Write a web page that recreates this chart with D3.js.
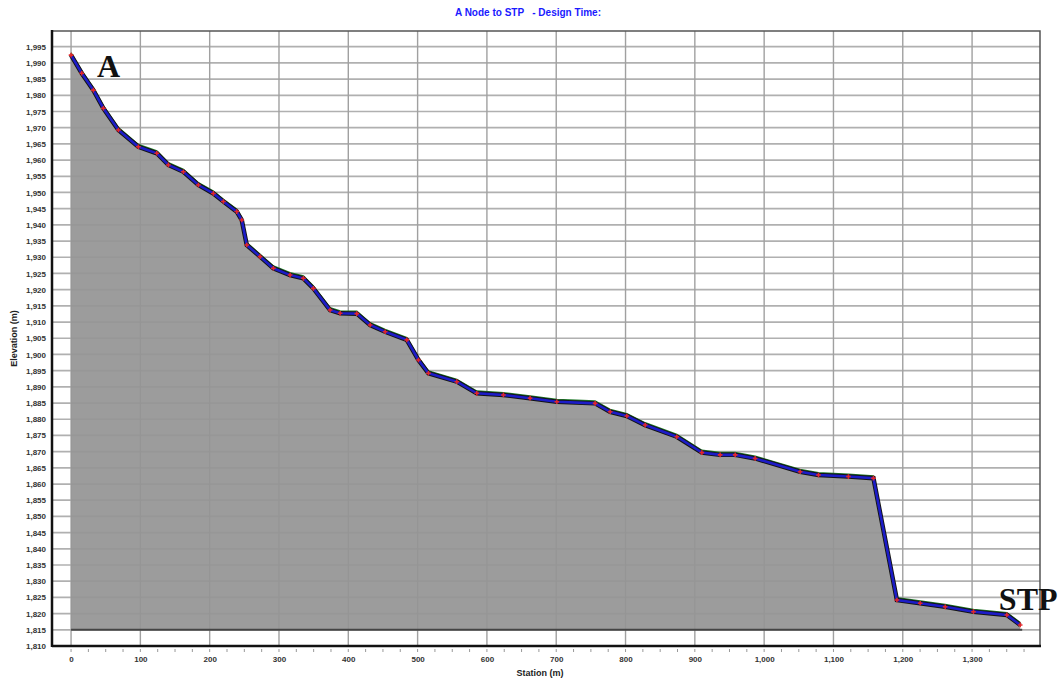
<!DOCTYPE html>
<html lang="en">
<head>
    <title>A Node to STP - Design Time</title>
    <script src="https://d3js.org/d3.v7.min.js"></script>
    <style>
        body { margin: 0; background: #fff; }
        .tick text { font-family: "Liberation Sans", Arial, sans-serif; font-weight: bold; }
    </style>
</head>
<body>
    <svg id="plot"></svg>

    <script>
        // station (m) and ground elevation (m)
        var station = [0, 15.4, 32.2, 46.6, 68.3, 97.1, 123.7, 140.4, 162.1, 183.7,
            205.3, 219.8, 239.1, 246.3, 253.5, 272.7, 291.9, 316.0, 335.2, 349.6,
            373.7, 388.2, 412.3, 431.5, 453.1, 484.4, 501.2, 515.6, 556.6, 585.4,
            623.8, 662.3, 700.9, 756.1, 777.8, 801.9, 828.3, 874.0, 910.1, 936.5,
            958.2, 987.0, 1051.9, 1078.4, 1121.6, 1157.7, 1191.5, 1225.1, 1261.2, 1302.0,
            1350.2, 1369.4];
        var elevation = [1992.4, 1986.8, 1981.6, 1976.0, 1969.3, 1964.1, 1962.1, 1958.5, 1956.4, 1952.3,
            1949.7, 1947.2, 1944.1, 1941.5, 1933.8, 1930.2, 1926.6, 1924.5, 1923.5, 1920.4,
            1913.7, 1912.7, 1912.6, 1909.1, 1907.0, 1904.5, 1898.3, 1894.2, 1891.6, 1888.0,
            1887.5, 1886.5, 1885.4, 1884.9, 1882.3, 1881.0, 1878.2, 1874.6, 1869.7, 1869.0,
            1869.0, 1867.9, 1863.8, 1862.8, 1862.3, 1861.8, 1824.2, 1823.2, 1822.1, 1820.6,
            1819.6, 1816.5];
        var baseElevation = 1815;

        var yTicks = d3.range(1810, 1996, 5);
        var xTicks = d3.range(0, 1301, 100);
        var xMinor = d3.range(0, 1400, 25);

        var W = 1062, H = 682;
        var pLeft = 52, pRight = 1040, pTop = 31, pBottom = 646;

        var svg = d3.select("#plot").attr("width", W).attr("height", H);

        var xScale = d3.scaleLinear().domain([-27.5, 1398]).range([pLeft, pRight]);
        var yScale = d3.scaleLinear().domain([1810, 2000]).range([pBottom, pTop - 0.5]);

        var fmt = d3.format(",");

        // grid
        svg.append("g").selectAll("line").data(yTicks).join("line")
            .attr("x1", pLeft).attr("x2", pRight)
            .attr("y1", function (d) { return yScale(d); })
            .attr("y2", function (d) { return yScale(d); })
            .attr("stroke", "#b0b0b0").attr("stroke-width", 1.7);

        svg.append("g").selectAll("line").data(xTicks).join("line")
            .attr("x1", function (d) { return xScale(d); })
            .attr("x2", function (d) { return xScale(d); })
            .attr("y1", pTop).attr("y2", pBottom)
            .attr("stroke", "#a0a0a0").attr("stroke-width", 1.4);

        var pts = station.map(function (s, i) { return { x: s, y: elevation[i] }; });

        // ground area
        var area = d3.area()
            .x(function (d) { return xScale(d.x); })
            .y0(yScale(baseElevation))
            .y1(function (d) { return yScale(d.y); });

        svg.append("path").datum(pts)
            .attr("d", area)
            .attr("fill", "#959595")
            .attr("fill-opacity", 0.93);

        svg.append("line")
            .attr("x1", xScale(0)).attr("x2", xScale(station[station.length - 1]) + 2)
            .attr("y1", yScale(baseElevation)).attr("y2", yScale(baseElevation))
            .attr("stroke", "#444").attr("stroke-width", 2);

        var line = d3.line()
            .x(function (d) { return xScale(d.x); })
            .y(function (d) { return yScale(d.y); });

        // hydraulic line just above the pipe
        svg.append("path").datum(pts.map(function (d) { return { x: d.x, y: d.y + 0.7 }; }))
            .attr("d", line).attr("fill", "none")
            .attr("stroke", "#1f7a2a").attr("stroke-width", 1.5);

        svg.append("path").datum(pts)
            .attr("d", line).attr("fill", "none")
            .attr("stroke", "#141414").attr("stroke-width", 4.5);

        svg.append("path").datum(pts)
            .attr("d", line).attr("fill", "none")
            .attr("stroke", "#1c1cc8").attr("stroke-width", 2.6);

        // node markers
        svg.append("g").selectAll("path").data(pts).join("path")
            .attr("d", d3.symbol(d3.symbolCross, 12))
            .attr("transform", function (d) { return "translate(" + xScale(d.x) + "," + yScale(d.y) + ")"; })
            .attr("fill", "#e3262a");

        // frame
        svg.append("rect")
            .attr("x", pLeft).attr("y", pTop)
            .attr("width", pRight - pLeft).attr("height", pBottom - pTop)
            .attr("fill", "none").attr("stroke", "#555").attr("stroke-width", 1.5);
        svg.append("line").attr("x1", pLeft).attr("x2", pLeft).attr("y1", pTop - 1).attr("y2", pBottom + 1)
            .attr("stroke", "#111").attr("stroke-width", 2.5);
        svg.append("line").attr("x1", pLeft).attr("x2", pRight + 1).attr("y1", pBottom).attr("y2", pBottom)
            .attr("stroke", "#111").attr("stroke-width", 2.5);

        // axes
        var yAxis = svg.append("g")
            .attr("transform", "translate(" + (pLeft - 1) + ",0)")
            .call(d3.axisLeft(yScale).tickValues(yTicks).tickFormat(fmt).tickSize(0).tickPadding(5));
        yAxis.select(".domain").remove();
        yAxis.selectAll("text").attr("font-size", 8).attr("fill", "#333");

        var xAxis = svg.append("g")
            .attr("transform", "translate(0," + pBottom + ")")
            .call(d3.axisBottom(xScale).tickValues(xTicks).tickFormat(fmt).tickSize(0).tickPadding(10));
        xAxis.select(".domain").remove();
        xAxis.selectAll("text").attr("font-size", 8).attr("fill", "#333");

        svg.append("g").selectAll("line").data(xMinor).join("line")
            .attr("x1", function (d) { return xScale(d); })
            .attr("x2", function (d) { return xScale(d); })
            .attr("y1", pBottom + 3).attr("y2", pBottom + 6)
            .attr("stroke", "#999").attr("stroke-width", 1);

        // titles
        svg.append("text")
            .attr("x", 528).attr("y", 16)
            .attr("text-anchor", "middle")
            .attr("font-family", "Liberation Sans, Arial, sans-serif")
            .attr("font-weight", "bold").attr("font-size", 10)
            .attr("fill", "#1a1aff")
            .attr("xml:space", "preserve")
            .text("A Node to STP   - Design Time:");

        svg.append("text")
            .attr("transform", "translate(17," + ((pTop + pBottom) / 2) + ") rotate(-90)")
            .attr("text-anchor", "middle")
            .attr("font-family", "Liberation Sans, Arial, sans-serif")
            .attr("font-weight", "bold").attr("font-size", 9)
            .attr("fill", "#222")
            .text("Elevation (m)");

        svg.append("text")
            .attr("x", 540).attr("y", 676)
            .attr("text-anchor", "middle")
            .attr("font-family", "Liberation Sans, Arial, sans-serif")
            .attr("font-weight", "bold").attr("font-size", 9)
            .attr("fill", "#222")
            .text("Station (m)");

        // end labels
        svg.append("text")
            .attr("x", xScale(54)).attr("y", yScale(1985.7))
            .attr("text-anchor", "middle")
            .attr("font-family", "Liberation Serif, Times New Roman, serif")
            .attr("font-weight", "bold").attr("font-size", 32)
            .attr("fill", "#111")
            .text("A");

        svg.append("text")
            .attr("x", xScale(1381)).attr("y", yScale(1821.1))
            .attr("text-anchor", "middle")
            .attr("font-family", "Liberation Serif, Times New Roman, serif")
            .attr("font-weight", "bold").attr("font-size", 32)
            .attr("fill", "#111")
            .text("STP");
    </script>
</body>
</html>
